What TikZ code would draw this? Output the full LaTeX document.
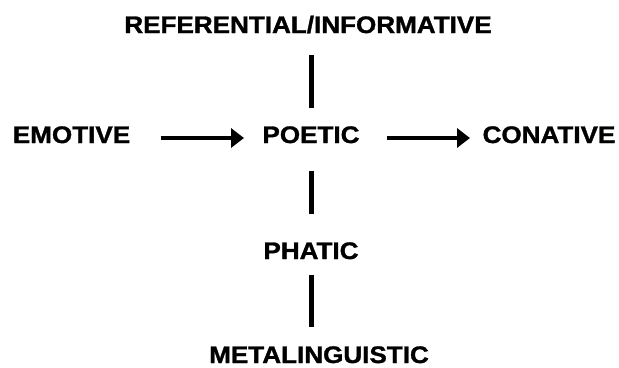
\documentclass[tikz,border=0pt]{standalone}
\usepackage{fontspec}
\setmainfont{Liberation Sans}[BoldFeatures={FakeBold=1.2}]
\usetikzlibrary{arrows.meta}
\newcommand{\lbltext}[1]{\scalebox{1.09}[1]{#1}}
\tikzset{
  lbl/.style={anchor=base, inner sep=0pt, font=\fontsize{24}{28}\selectfont\bfseries},
  bar/.style={line width=4.2bp},
  arr/.style={line width=3.6bp, -{Triangle[length=13bp,width=19bp]}}
}
\begin{document}
\begin{tikzpicture}[x=1bp,y=-1bp]
\useasboundingbox (0,0) rectangle (619,367);
\node[lbl] (ref) at (308,33) {\lbltext{REFERENTIAL/INFORMATIVE}};
\node[lbl] (emo) at (71.5,143) {\lbltext{EMOTIVE}};
\node[lbl] (poe) at (311,143) {\lbltext{POETIC}};
\node[lbl] (con) at (549,143) {\lbltext{CONATIVE}};
\node[lbl] (pha) at (311,259) {\lbltext{PHATIC}};
\node[lbl] (met) at (319,363) {\lbltext{METALINGUISTIC}};
\coordinate (v1a) at (311.5,55);
\coordinate (v1b) at (311.5,108);
\coordinate (v2a) at (311.5,171);
\coordinate (v2b) at (311.5,214);
\coordinate (v3a) at (311.5,275);
\coordinate (v3b) at (311.5,327);
\coordinate (a1s) at (160.5,138);
\coordinate (a1e) at (244,138);
\coordinate (a2s) at (387,138);
\coordinate (a2e) at (470,138);
\draw[bar] (v1a) -- (v1b);
\draw[bar] (v2a) -- (v2b);
\draw[bar] (v3a) -- (v3b);
\draw[arr] (a1s) -- (a1e);
\draw[arr] (a2s) -- (a2e);
\end{tikzpicture}
\end{document}
